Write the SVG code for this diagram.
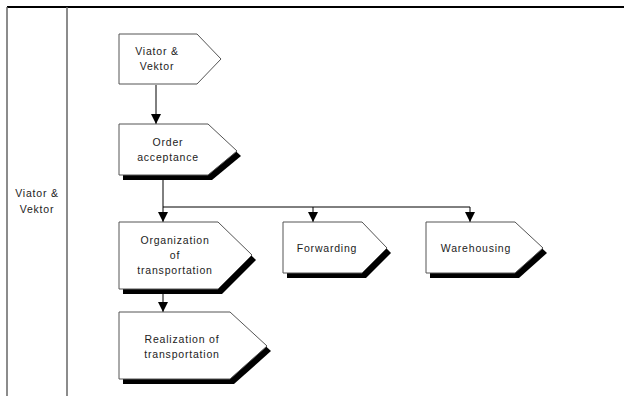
<svg xmlns="http://www.w3.org/2000/svg" width="624" height="396" viewBox="0 0 624 396">
<style>
text{font-family:"Liberation Sans",Arial,sans-serif;font-size:10.5px;letter-spacing:0.8px;fill:#222;text-anchor:middle}
.n{fill:#fff;stroke:#555;stroke-width:1}
.s{fill:#000}
.c{fill:none;stroke:#000;stroke-width:1}
.f{stroke:#666;stroke-width:1.5;fill:none}
</style>
<defs>
<marker id="a" viewBox="0 0 10 10" refX="10" refY="5" markerWidth="10" markerHeight="10" markerUnits="userSpaceOnUse" orient="auto">
<path d="M0,0L10,5L0,10z" fill="#000"/>
</marker>
</defs>
<g id="frame">
<line x1="7" y1="7" x2="624" y2="7" stroke="#000" stroke-width="2"/>
<line class="f" x1="7" y1="7" x2="7" y2="396"/>
<line class="f" x1="67" y1="7" x2="67" y2="396"/>
</g>
<g id="lane-label"><text x="37" y="197">Viator &amp;</text><text x="37" y="213">Vektor</text></g>
<g id="connectors">
<line class="c" x1="156" y1="85" x2="156" y2="124" marker-end="url(#a)"/>
<polyline class="c" points="163,180 163,207 470,207"/>
<line class="c" x1="163" y1="207" x2="163" y2="222" marker-end="url(#a)"/>
<line class="c" x1="313" y1="207" x2="313" y2="222" marker-end="url(#a)"/>
<line class="c" x1="470" y1="207" x2="470" y2="222" marker-end="url(#a)"/>
<line class="c" x1="163" y1="294" x2="163" y2="312" marker-end="url(#a)"/>
</g>
<g id="n-viator">
<polygon class="n" points="119,34 197,34 221,59 197,84 119,84"/>
<text x="157" y="55">Viator &amp;</text><text x="157" y="70">Vektor</text>
</g>
<g id="n-order">
<polygon class="s" points="123,129 212,129 241,156 212,180 123,180"/>
<polygon class="n" points="119,124 208,124 237,151 208,175 119,175"/>
<text x="168" y="146">Order</text><text x="168" y="161">acceptance</text>
</g>
<g id="n-organization">
<polygon class="s" points="123,227 222,227 256,260 222,294 123,294"/>
<polygon class="n" points="119,222 218,222 252,255 218,289 119,289"/>
<text x="175" y="244">Organization</text><text x="175" y="259">of</text><text x="175" y="274">transportation</text>
</g>
<g id="n-realization">
<polygon class="s" points="123,317 234,317 271,351 234,384 123,384"/>
<polygon class="n" points="119,312 230,312 267,346 230,379 119,379"/>
<text x="182" y="343">Realization of</text><text x="182" y="358">transportation</text>
</g>
<g id="n-forwarding">
<polygon class="s" points="287,227 366,227 391,253 366,278 287,278"/>
<polygon class="n" points="283,222 362,222 387,248 362,273 283,273"/>
<text x="327" y="252">Forwarding</text>
</g>
<g id="n-warehousing">
<polygon class="s" points="430,227 519,227 547,253 519,278 430,278"/>
<polygon class="n" points="426,222 515,222 543,248 515,273 426,273"/>
<text x="476" y="252">Warehousing</text>
</g>
</svg>
